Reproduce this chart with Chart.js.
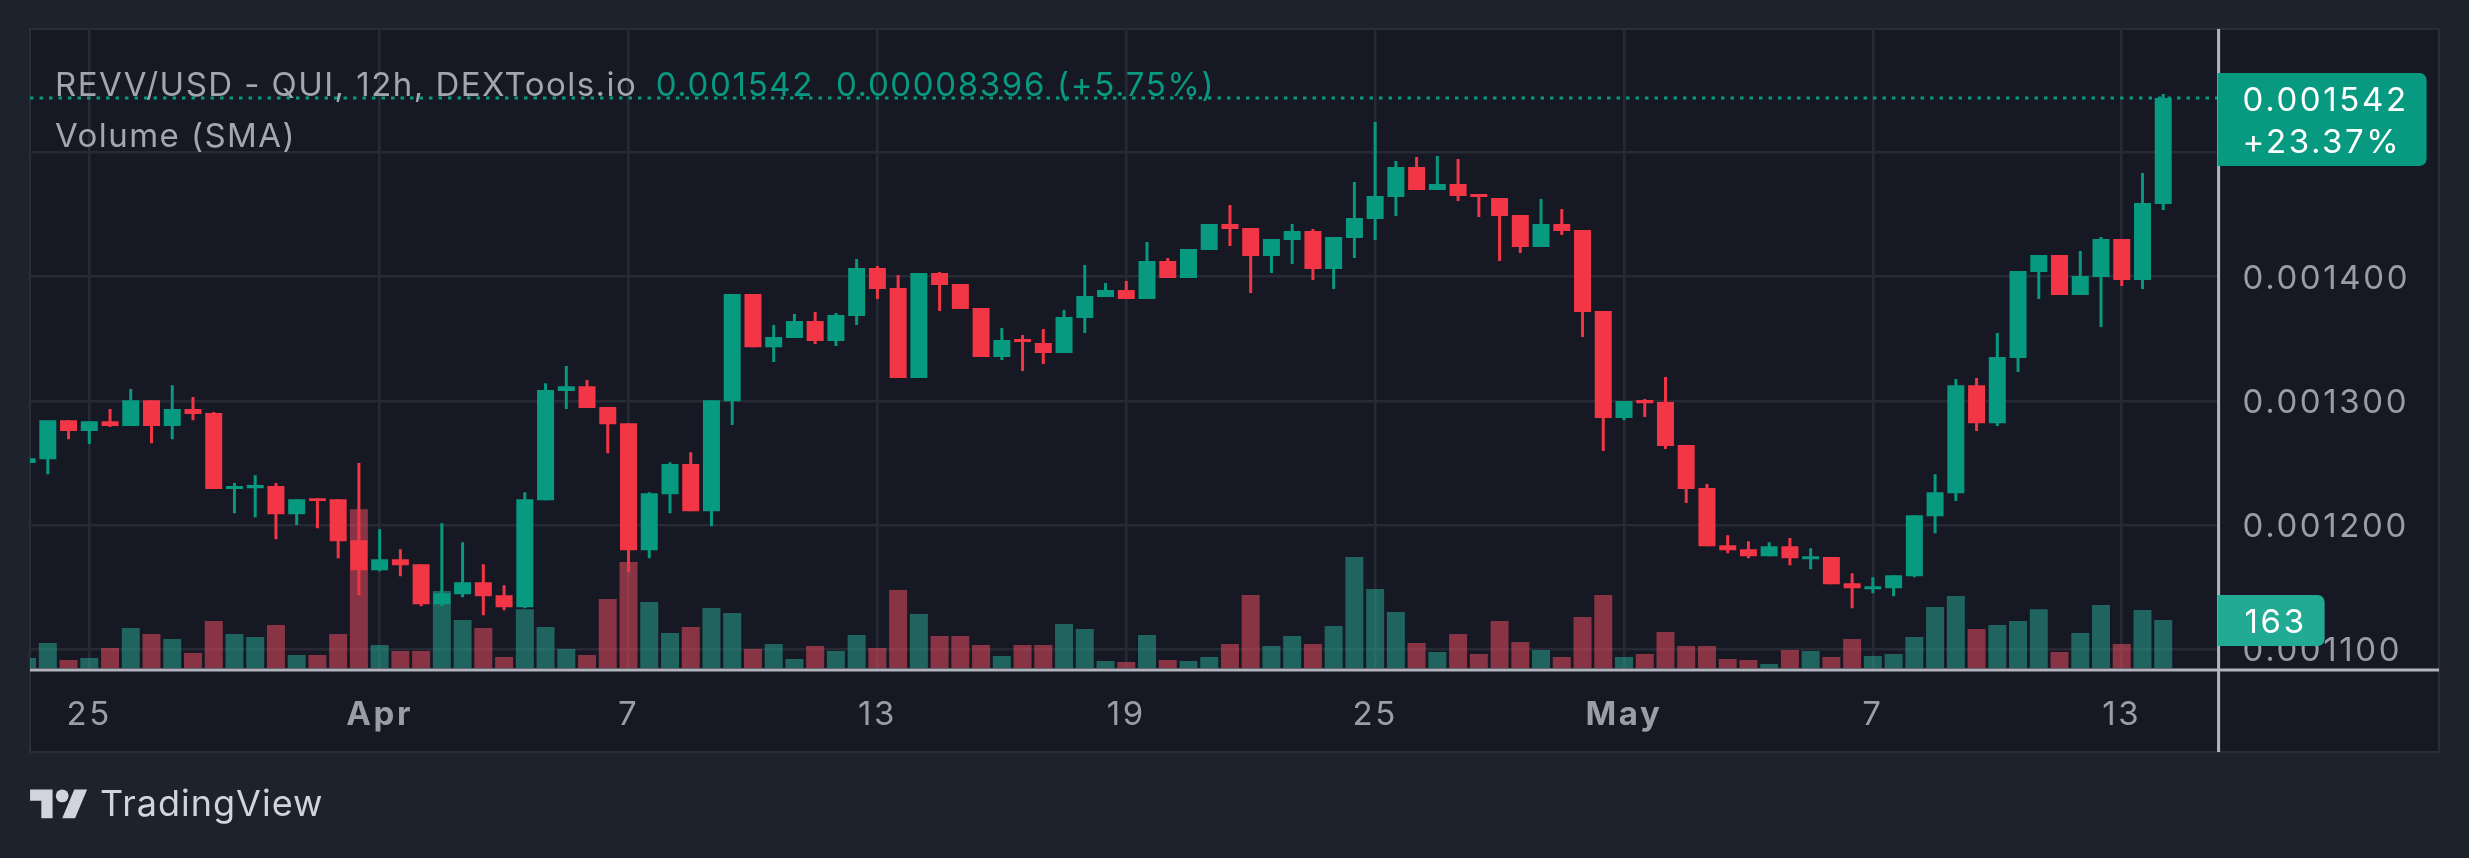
<!DOCTYPE html>
<html>
<head>
<meta charset="utf-8">
<title>REVV/USD</title>
<script src="https://cdn.jsdelivr.net/npm/chart.js@4"></script>
<style>
  html, body { margin: 0; padding: 0; background: #1e222d; }
  body { position: relative; width: 2469px; height: 858px; overflow: hidden; font-family: Inter, sans-serif; }
  canvas { position: absolute; left: 0; top: 0; }
  .legend { position: absolute; white-space: pre; font-size: 33px; letter-spacing: 1.45px; line-height: 40px; color: #a3a6af; }
  .legend .up { color: #089981; letter-spacing: 1.65px; margin-left: -3px; }
  #logo { position: absolute; left: 30px; top: 783px; }
  #brand { position: absolute; left: 100px; top: 781px; font-size: 36px; letter-spacing: 1px; line-height: 44px; color: #d1d4dc; }
</style>
</head>
<body>
<canvas id="revvChart" width="2469" height="858"></canvas>
<div class="legend" style="left:55px; top:64px;">REVV/USD - QUI, 12h, DEXTools.io  <span class="up">0.001542  0.00008396 (+5.75%)</span></div>
<div class="legend" style="left:55px; top:115px;">Volume (SMA)</div>
<svg id="logo" width="58" height="45" viewBox="0 0 36 28"><path fill="#d1d4dc" d="M14 22H7V11H0V4h14v18zM28 22h-8l7.5-18h8L28 22z"/><circle fill="#d1d4dc" cx="20" cy="8" r="4"/></svg>
<div id="brand">TradingView</div>
<script>
// Prices are in millionths of a dollar (1400 = 0.001400), one per 12h candle
var opens = [1250.0,1253.1,1284.5,1275.7,1283.7,1279.7,1300.6,1279.7,1293.4,1290.2,1229.0,1229.7,1231.4,1208.8,1221.7,1220.9,1187.8,1163.7,1172.5,1168.5,1136.3,1144.3,1154.0,1143.5,1133.9,1220.1,1307.9,1311.9,1295.0,1282.1,1179.8,1224.9,1249.1,1211.2,1299.8,1386.0,1343.3,1350.6,1364.3,1348.2,1368.3,1407.0,1390.9,1318.4,1403.0,1394.1,1374.8,1335.3,1349.8,1346.6,1338.5,1366.7,1383.6,1389.3,1382.0,1412.7,1399.0,1421.5,1442.4,1439.2,1416.7,1429.6,1436.8,1406.2,1431.2,1446.5,1464.2,1488.4,1469.9,1474.7,1466.7,1463.4,1449.7,1423.9,1442.5,1437.6,1372.4,1286.2,1300.7,1299.1,1264.4,1229.8,1183.8,1180.6,1175.0,1183.0,1172.5,1174.2,1153.2,1148.4,1149.2,1158.8,1207.2,1225.7,1312.7,1282.1,1334.5,1403.8,1417.5,1385.3,1399.8,1430.4,1397.4,1458.6];
var closes = [1253.9,1284.5,1275.7,1283.7,1279.7,1300.6,1279.7,1293.4,1289.4,1229.0,1231.4,1232.2,1208.8,1220.9,1219.3,1187.0,1163.7,1172.5,1167.7,1136.3,1145.1,1154.0,1142.7,1133.9,1220.9,1308.7,1311.9,1294.2,1281.3,1179.8,1225.7,1249.1,1211.2,1300.6,1386.0,1343.3,1351.4,1364.3,1348.2,1369.1,1407.0,1390.1,1318.4,1403.0,1393.3,1374.0,1335.3,1349.0,1347.4,1338.5,1367.5,1384.4,1389.3,1382.0,1412.7,1399.0,1422.3,1442.4,1438.4,1416.7,1430.4,1436.8,1406.2,1432.0,1447.3,1465.0,1488.4,1469.9,1474.7,1465.0,1464.2,1448.9,1423.9,1442.5,1436.8,1371.6,1286.2,1299.9,1298.2,1263.6,1229.0,1183.0,1179.8,1175.0,1183.0,1173.3,1175.0,1152.4,1149.2,1150.8,1159.6,1208.0,1226.5,1312.7,1282.1,1335.3,1404.6,1417.5,1385.3,1400.6,1430.4,1397.4,1459.4,1544.0];
var highs = [1253.9,1284.5,1284.5,1283.7,1293.4,1309.5,1300.6,1312.7,1303.1,1291.0,1233.8,1240.2,1233.8,1220.9,1221.7,1220.9,1249.9,1196.7,1180.6,1168.5,1201.5,1186.2,1168.5,1151.6,1226.5,1314.3,1328.1,1316.8,1295.0,1282.1,1226.5,1250.7,1258.7,1300.6,1386.0,1386.0,1361.1,1370.0,1371.6,1370.7,1414.2,1408.6,1401.4,1403.0,1403.8,1394.1,1374.8,1358.7,1353.0,1357.9,1373.2,1409.4,1394.9,1396.5,1428.0,1415.1,1422.3,1442.4,1457.8,1439.2,1430.4,1442.4,1438.4,1432.0,1476.3,1524.6,1493.2,1496.5,1497.3,1494.9,1466.7,1463.4,1449.7,1462.6,1454.6,1437.6,1372.4,1299.9,1301.5,1319.2,1264.4,1233.0,1191.9,1187.0,1186.2,1189.5,1181.4,1174.2,1161.3,1158.0,1159.6,1208.0,1241.0,1317.6,1318.4,1354.6,1404.6,1417.5,1417.5,1420.7,1432.0,1430.4,1483.6,1547.2];
var lows = [1250.0,1241.0,1269.2,1265.2,1278.9,1279.7,1266.0,1269.2,1284.5,1229.0,1209.6,1206.4,1188.6,1200.0,1197.5,1173.3,1143.5,1162.9,1158.8,1134.6,1134.6,1141.9,1127.4,1131.4,1133.0,1220.1,1293.4,1294.2,1257.9,1162.0,1173.3,1209.6,1211.2,1199.1,1280.5,1343.3,1331.3,1350.6,1345.8,1344.2,1361.1,1382.0,1318.4,1318.4,1372.4,1374.0,1335.3,1332.9,1324.0,1329.7,1338.5,1354.6,1383.6,1382.0,1382.0,1399.0,1399.0,1421.5,1424.7,1386.9,1403.0,1410.2,1397.3,1390.1,1415.1,1429.6,1448.9,1469.9,1469.9,1461.0,1448.1,1412.7,1419.1,1423.9,1433.6,1351.4,1259.6,1284.5,1287.0,1261.2,1217.7,1183.0,1177.4,1173.3,1175.0,1167.7,1164.5,1152.4,1133.0,1145.1,1142.7,1158.0,1193.5,1219.3,1275.7,1279.7,1323.2,1382.0,1385.3,1385.3,1359.5,1392.5,1390.1,1453.8];
var volumes = [34,85,27,34,68,136,116,99,51,160,116,105,146,44,44,116,540,78,58,58,262,163,136,37,200,139,65,44,235,360,224,119,139,204,187,65,82,31,75,58,112,68,265,184,109,109,78,41,78,78,150,133,24,20,112,27,24,37,82,248,75,109,82,143,377,269,190,85,54,116,48,160,88,61,37,173,248,37,48,122,75,75,31,27,14,61,58,37,99,41,48,105,207,245,133,146,160,200,54,119,214,82,197,163];

var priceTicks = [1100, 1200, 1300, 1400, 1500];
var timeTicks = [3, 17, 29, 41, 53, 65, 77, 89, 101];
var timeLabels = ['25', 'Apr', '7', '13', '19', '25', 'May', '7', '13'];
var monthLabels = ['Apr', 'May'];
var lastPriceText = '0.001542';
var lastChangeText = '+23.37%';
var lastVolumeText = '163';

var UP = '#089981';
var DOWN = '#f23645';
var UP_VOL = 'rgba(40,176,152,0.5)';
var DOWN_VOL = 'rgba(250,80,100,0.5)';
var GRID = '#272935';
var AXIS = '#b2b5be';
var TICK_TEXT = '#9a9da6';
var FONT = 'Inter, sans-serif';

function isUp(i) { return closes[i] >= opens[i]; }
var candleColors = opens.map(function (o, i) { return isUp(i) ? UP : DOWN; });
var volumeColors = opens.map(function (o, i) { return isUp(i) ? UP_VOL : DOWN_VOL; });

var lastIndex = closes.length - 1;
var xMin = 0.141, xMax = 105.67;

// panel background, frame and the bright axis lines that run past the plot area
var panelPlugin = {
    id: 'panel',
    beforeDraw: function (chart) {
        var c = chart.ctx, a = chart.chartArea;
        var right = a.right + chart.scales.y.width;
        var bottom = a.bottom + chart.scales.x.height;
        c.letterSpacing = '2.6px';
        c.save();
        c.fillStyle = '#161824';
        c.fillRect(a.left, a.top, right - a.left, bottom - a.top);
        c.strokeStyle = '#2a2e39';
        c.lineWidth = 2;
        c.strokeRect(a.left, a.top, right - a.left, bottom - a.top);
        c.restore();
    },
    afterDatasetsDraw: function (chart) {
        var c = chart.ctx, a = chart.chartArea;
        c.save();
        c.strokeStyle = AXIS;
        c.lineWidth = 3;
        c.beginPath();
        c.moveTo(a.right, a.top);
        c.lineTo(a.right, a.bottom + chart.scales.x.height);
        c.moveTo(a.left, a.bottom);
        c.lineTo(a.right + chart.scales.y.width, a.bottom);
        c.stroke();
        c.restore();
    }
};

function drawTag(c, x, y, w, h, color) {
    c.fillStyle = color;
    c.beginPath();
    c.roundRect(x, y, w, h, [0, 7, 7, 0]);
    c.fill();
}

// last price and last volume tags on the price axis
var tagPlugin = {
    id: 'tags',
    afterDraw: function (chart) {
        var c = chart.ctx, a = chart.chartArea;
        var py = chart.scales.y.getPixelForValue(closes[lastIndex]);
        var vy = chart.scales.vol.getPixelForValue(volumes[lastIndex]);
        c.save();
        drawTag(c, a.right - 1, py - 25, 209, 93, UP);
        drawTag(c, a.right - 1, vy - 25, 107, 51, '#22ab94');
        c.fillStyle = '#ffffff';
        c.font = '33px ' + FONT;
        c.textBaseline = 'middle';
        c.textAlign = 'left';
        c.fillText(lastPriceText, a.right + 24, py + 3);
        c.fillText(lastChangeText, a.right + 24, py + 45);
        c.fillText(lastVolumeText, a.right + 26, vy + 3);
        c.restore();
    }
};

var ctx = document.getElementById('revvChart').getContext('2d');
var revvChart = new Chart(ctx, {
    type: 'bar',
    data: {
        datasets: [
            {
                label: 'Last price',
                type: 'line',
                data: [{ x: xMin, y: closes[lastIndex] }, { x: xMax, y: closes[lastIndex] }],
                borderColor: UP,
                borderWidth: 3,
                borderDash: [3.5, 6],
                pointRadius: 0,
                yAxisID: 'y',
                order: 0
            },
            {
                label: 'Body',
                data: opens.map(function (o, i) { return { x: i, y: [o, closes[i]] }; }),
                backgroundColor: candleColors,
                barThickness: 17,
                grouped: false,
                inflateAmount: 0,
                yAxisID: 'y',
                order: 1
            },
            {
                label: 'Wick',
                data: lows.map(function (l, i) { return { x: i, y: [l, highs[i]] }; }),
                backgroundColor: candleColors,
                barThickness: 3,
                grouped: false,
                inflateAmount: 0,
                yAxisID: 'y',
                order: 2
            },
            {
                label: 'Volume',
                data: volumes.map(function (v, i) { return { x: i, y: v }; }),
                backgroundColor: volumeColors,
                barThickness: 18,
                grouped: false,
                inflateAmount: 0,
                yAxisID: 'vol',
                order: 3
            }
        ]
    },
    options: {
        responsive: false,
        animation: false,
        devicePixelRatio: 1,
        layout: { padding: { left: 30, top: 29, right: 30, bottom: 106 } },
        plugins: { legend: { display: false }, tooltip: { enabled: false } },
        scales: {
            x: {
                type: 'linear',
                offset: false,
                min: xMin,
                max: xMax,
                afterFit: function (scale) {
                    scale.height = 82;
                    scale.paddingLeft = 0;
                    scale.paddingRight = 0;
                },
                afterBuildTicks: function (scale) {
                    scale.ticks = timeTicks.map(function (v) { return { value: v }; });
                },
                grid: { color: GRID, lineWidth: 2.6, drawTicks: false, offset: false },
                border: { display: false },
                ticks: {
                    autoSkip: false,
                    maxRotation: 0,
                    padding: 25,
                    color: TICK_TEXT,
                    font: function (context) {
                        var label = context.tick ? timeLabels[timeTicks.indexOf(context.tick.value)] : '';
                        return { family: FONT, size: 33, weight: monthLabels.indexOf(label) >= 0 ? 'bold' : 'normal' };
                    },
                    callback: function (value) { return timeLabels[timeTicks.indexOf(value)]; }
                }
            },
            y: {
                position: 'right',
                min: 1083.3,
                max: 1599.5,
                afterFit: function (scale) {
                    scale.width = 220.4;
                    scale.paddingTop = 0;
                    scale.paddingBottom = 0;
                },
                afterBuildTicks: function (scale) {
                    scale.ticks = priceTicks.map(function (v) { return { value: v }; });
                },
                grid: { color: GRID, lineWidth: 2.6, drawTicks: false },
                border: { display: false },
                ticks: {
                    crossAlign: 'near',
                    padding: 24,
                    labelOffset: 2,
                    color: TICK_TEXT,
                    font: { family: FONT, size: 33 },
                    callback: function (value) { return (value / 1e6).toFixed(6); }
                }
            },
            vol: {
                display: false,
                position: 'right',
                min: -6.8,
                max: 2172.6
            }
        }
    },
    plugins: [panelPlugin, tagPlugin]
});
</script>
</body>
</html>
